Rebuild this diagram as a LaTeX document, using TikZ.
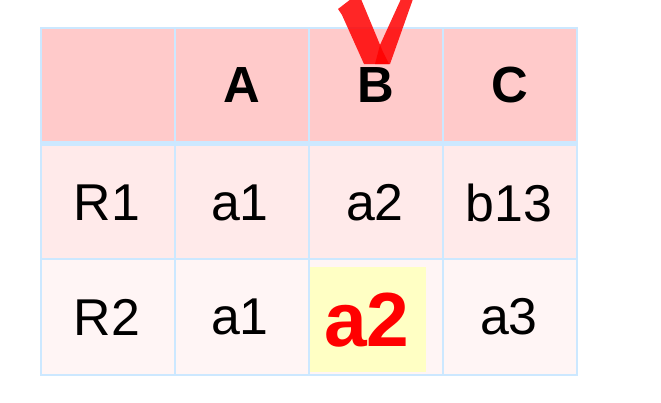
\documentclass[tikz,border=0pt]{standalone}
\usepackage{fontspec}
\setmainfont{Liberation Sans}
\definecolor{hdr}{RGB}{255,202,202}
\definecolor{rowa}{RGB}{255,234,234}
\definecolor{rowb}{RGB}{255,245,245}
\definecolor{gridc}{RGB}{204,232,255}
\definecolor{hl}{RGB}{255,255,196}
\definecolor{redmk}{RGB}{255,0,0}
\begin{document}
\begin{tikzpicture}[x=1bp,y=-1bp,
  cell/.style={inner sep=0pt},
  hdrtxt/.style={cell,font=\fontsize{51}{51}\selectfont\bfseries},
  celltxt/.style={cell,font=\fontsize{52}{52}\selectfont},
  bigtxt/.style={cell,font=\fontsize{77}{77}\selectfont\bfseries,text=redmk},
  gridline/.style={draw=gridc,line width=2bp},
  tickfill/.style={fill=redmk,opacity=0.85}]
\useasboundingbox (0,0) rectangle (661,402);
% fills
\fill[hdr] (41,28) rectangle (577,143);
\fill[rowa] (41,143) rectangle (577,259);
\fill[rowb] (41,259) rectangle (577,375);
\fill[hl] (310,267) rectangle (426,372);
% grid
\draw[gridline] (41,28) rectangle (577,375);
\foreach \x in {175,309,443} \draw[gridline] (\x,28) -- (\x,375);
\draw[gridline] (41,259) -- (577,259);
\draw[draw=gridc,line width=5bp] (41,143.5) -- (577,143.5);
% texts
\node[hdrtxt] (hA) at (242,85) {A};
\node[hdrtxt] (hB) at (376,85) {B};
\node[hdrtxt] (hC) at (510,85) {C};
\node[celltxt] (r1) at (107,202.5) {R1};
\node[celltxt] (r1a) at (240,202.5) {a1};
\node[celltxt] (r1b) at (375,202.5) {a2};
\node[celltxt] (r1c) at (509,202.5) {b13};
\node[celltxt] (r2) at (107,317) {R2};
\node[celltxt] (r2a) at (240,317) {a1};
\node[bigtxt] (r2b) at (367,320) {a2};
\node[celltxt] (r2c) at (509,317) {a3};
% check mark
\path[tickfill] (338,9) -- (351,-1) -- (361,-1) -- (383,52) -- (389,64) -- (364,64) -- (342,15) -- cycle;
\path[tickfill] (401,-1) -- (413,-1) -- (390,64) -- (375,64) -- (380,45) -- cycle;
\end{tikzpicture}
\end{document}
